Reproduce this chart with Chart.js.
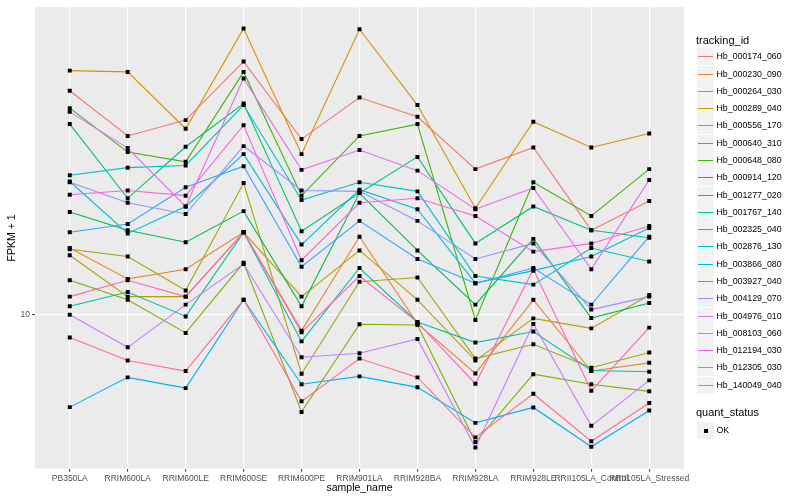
<!DOCTYPE html>
<html>
<head>
<meta charset="utf-8">
<script src="https://cdn.jsdelivr.net/npm/chart.js@4.4.1/dist/chart.umd.min.js"></script>
<style>
  body { margin: 0; background: #ffffff; }
  #wrap { position: relative; width: 800px; height: 500px; font-family: 'Liberation Sans', Arial, sans-serif; }
  #chart { position: absolute; left: 0; top: 0; }
  .lg-title { position: absolute; left: 696px; font-size: 11px; line-height: 13px; color: #000; white-space: nowrap; }
  .lg-key { position: absolute; left: 697px; width: 17px; height: 17px; background: #f2f2f2; }
  .lg-line { position: absolute; left: 1px; right: 1px; top: 8px; height: 1px; }
  .lg-dot { position: absolute; left: 7px; top: 7px; width: 4px; height: 4px; background: #000; }
  .lg-text { position: absolute; left: 716.5px; font-size: 8.8px; line-height: 17px; color: #000; white-space: nowrap; }
</style>
</head>
<body>
<div id="wrap">
  <canvas id="chart" width="800" height="500"></canvas>
  <div id="legend"></div>
</div>
<script>
const sampleNames = ['PB350LA', 'RRIM600LA', 'RRIM600LE', 'RRIM600SE', 'RRIM600PE', 'RRIM901LA',
  'RRIM928BA', 'RRIM928LA', 'RRIM928LE', 'RRII105LA_Control', 'RRII105LA_Stressed'];

const trackingIds = ['Hb_000174_060', 'Hb_000230_090', 'Hb_000264_030', 'Hb_000289_040', 'Hb_000556_170',
  'Hb_000640_310', 'Hb_000648_080', 'Hb_000914_120', 'Hb_001277_020', 'Hb_001767_140',
  'Hb_002325_040', 'Hb_002876_130', 'Hb_003866_080', 'Hb_003927_040', 'Hb_004129_070',
  'Hb_004976_010', 'Hb_008103_060', 'Hb_012194_030', 'Hb_012305_030', 'Hb_140049_040'];

// FPKM + 1, one value per sample
const hb000174 = [36.5, 28.1, 30.8, 43.2, 27.6, 35.1, 31.4, 23.2, 26.3, 16.3, 19.3];
const hb000230 = [14.7, 12.3, 13.0, 16.1, 9.12, 15.7, 9.50, 7.12, 10.9, 7.22, 7.57];
const hb000264 = [41.0, 40.7, 29.3, 52.3, 25.3, 52.1, 33.6, 18.5, 30.5, 26.3, 28.5];
const hb000289 = [14.1, 11.1, 11.1, 16.1, 11.1, 14.5, 10.9, 7.67, 9.79, 9.24, 11.2];
const hb000556 = [14.6, 14.0, 11.5, 21.4, 7.11, 12.1, 12.4, 7.76, 8.43, 7.36, 8.04];
const hb000640 = [12.2, 10.9, 9.00, 13.5, 5.70, 9.46, 9.42, 4.79, 7.09, 6.69, 6.42];
const hb000648 = [33.0, 25.6, 24.2, 40.7, 19.9, 28.1, 30.1, 9.70, 21.5, 17.7, 23.2];
const hb000914 = [18.1, 16.3, 15.2, 18.2, 10.5, 20.2, 14.5, 10.6, 15.5, 9.81, 10.7];
const hb001277 = [30.1, 19.6, 26.4, 33.9, 16.2, 20.2, 24.9, 15.1, 18.7, 16.3, 15.6];
const hb001767 = [10.5, 11.4, 9.90, 16.1, 8.57, 13.1, 9.59, 8.51, 9.07, 7.24, 7.19];
const hb002325 = [22.4, 23.4, 23.7, 33.6, 19.4, 21.5, 20.4, 12.5, 11.9, 14.7, 13.6];
const hb002876 = [21.6, 16.0, 18.7, 25.3, 15.0, 20.6, 18.4, 12.0, 12.9, 14.0, 16.5];
const hb003866 = [5.86, 6.96, 6.54, 10.9, 6.69, 7.00, 6.57, 5.35, 5.85, 4.66, 5.75];
const hb003927 = [16.1, 16.9, 20.9, 23.6, 13.2, 17.2, 13.8, 12.0, 13.1, 10.6, 15.7];
const hb004129 = [21.5, 19.1, 17.9, 26.5, 20.5, 20.4, 17.2, 13.8, 15.1, 10.3, 11.1];
const hb004976 = [10.0, 8.28, 10.6, 13.4, 7.82, 8.00, 8.69, 4.64, 9.48, 5.26, 6.84];
const hb008103 = [32.3, 26.2, 18.7, 39.2, 23.1, 25.9, 23.0, 18.4, 20.8, 13.0, 21.8];
const hb012194 = [20.0, 20.5, 19.9, 29.9, 13.7, 19.1, 19.6, 17.7, 14.4, 15.1, 16.7];
const hb012305 = [11.1, 12.2, 11.1, 16.1, 9.03, 12.5, 9.57, 6.71, 13.0, 6.44, 9.28];
const hb140049 = [8.77, 7.67, 7.22, 10.9, 6.06, 7.76, 6.96, 4.92, 6.33, 4.81, 6.00];

const seriesValues = [hb000174, hb000230, hb000264, hb000289, hb000556, hb000640, hb000648,
  hb000914, hb001277, hb001767, hb002325, hb002876, hb003866, hb003927, hb004129,
  hb004976, hb008103, hb012194, hb012305, hb140049];

const yTicks = [10];

const hueColours = ['#F8766D', '#EA8331', '#D89000', '#C09B00', '#A3A500', '#7CAE00', '#39B600',
  '#00BB4E', '#00BF7D', '#00C1A3', '#00BFC4', '#00BAE0', '#00B0F6', '#35A2FF', '#9590FF',
  '#C77CFF', '#E76BF3', '#FA62DB', '#FF62BC', '#FF6C91'];

const fontFamily = "'Liberation Sans', Arial, sans-serif";

function toPoints(vals) {
  return vals.map((v, j) => ({ x: j, y: v }));
}

// lines first (series 1 at the bottom), then all the points on top
const lineSets = seriesValues.map((vals, i) => ({
  label: trackingIds[i],
  data: toPoints(vals),
  borderColor: hueColours[i],
  borderWidth: 1.1,
  pointRadius: 0,
  tension: 0,
  order: 100 - i
}));

const pointSets = seriesValues.map((vals, i) => ({
  label: trackingIds[i] + ' OK',
  data: toPoints(vals),
  showLine: false,
  pointStyle: 'rect',
  pointRadius: 2.8,
  pointBackgroundColor: '#000000',
  pointBorderColor: '#000000',
  pointBorderWidth: 0,
  order: 0
}));

const panelBg = {
  id: 'panelBg',
  beforeDraw(c) {
    const a = c.chartArea;
    const ctx = c.ctx;
    ctx.save();
    ctx.fillStyle = '#EBEBEB';
    ctx.fillRect(a.left, a.top, a.right - a.left, a.bottom - a.top);
    ctx.restore();
  }
};

new Chart(document.getElementById('chart'), {
  type: 'line',
  data: { datasets: lineSets.concat(pointSets) },
  plugins: [panelBg],
  options: {
    responsive: false,
    animation: false,
    layout: { padding: { left: 0, right: 116, top: 5, bottom: 0 } },
    plugins: {
      legend: { display: false },
      tooltip: { enabled: false }
    },
    scales: {
      x: {
        type: 'linear',
        min: -0.6,
        max: 10.6,
        bounds: 'data',
        afterBuildTicks: s => { s.ticks = sampleNames.map((_, i) => ({ value: i })); },
        afterFit: s => { s.height = 31.3; },
        ticks: {
          autoSkip: false,
          maxRotation: 0,
          minRotation: 0,
          padding: 2,
          color: '#4D4D4D',
          font: { family: fontFamily, size: 8.5 },
          callback: v => sampleNames[v]
        },
        grid: { color: '#FFFFFF', lineWidth: 1.2, tickColor: '#333333', tickLength: 3, tickWidth: 1 },
        border: { display: false },
        title: {
          display: true,
          text: 'sample_name',
          color: '#000000',
          font: { family: fontFamily, size: 10.5 },
          padding: { top: 0, bottom: 5.5 }
        }
      },
      y: {
        type: 'logarithmic',
        min: 4.105,
        max: 59.2,
        bounds: 'data',
        afterBuildTicks: s => { s.ticks = yTicks.map(v => ({ value: v })); },
        afterFit: s => { s.width = 35; },
        ticks: {
          padding: 2,
          color: '#4D4D4D',
          font: { family: fontFamily, size: 8.5 },
          callback: v => String(v)
        },
        grid: { color: '#FFFFFF', lineWidth: 1.2, tickColor: '#333333', tickLength: 3, tickWidth: 1 },
        border: { display: false },
        title: {
          display: true,
          text: 'FPKM + 1',
          color: '#000000',
          font: { family: fontFamily, size: 10.5 },
          padding: { top: 5.5, bottom: 0 }
        }
      }
    }
  }
});

// legend, ggplot style
let html = '<div class="lg-title" style="top:34px">tracking_id</div>';
trackingIds.forEach((id, i) => {
  const top = Math.round(48.3 + 17.28 * i);
  html += `<div class="lg-key" style="top:${top}px"><div class="lg-line" style="background:${hueColours[i]}"></div></div>`;
  html += `<div class="lg-text" style="top:${top}px">${id}</div>`;
});
html += '<div class="lg-title" style="top:406px">quant_status</div>';
html += '<div class="lg-key" style="top:422px"><div class="lg-dot"></div></div>';
html += '<div class="lg-text" style="top:422px">OK</div>';
document.getElementById('legend').innerHTML = html;
</script>
</body>
</html>
